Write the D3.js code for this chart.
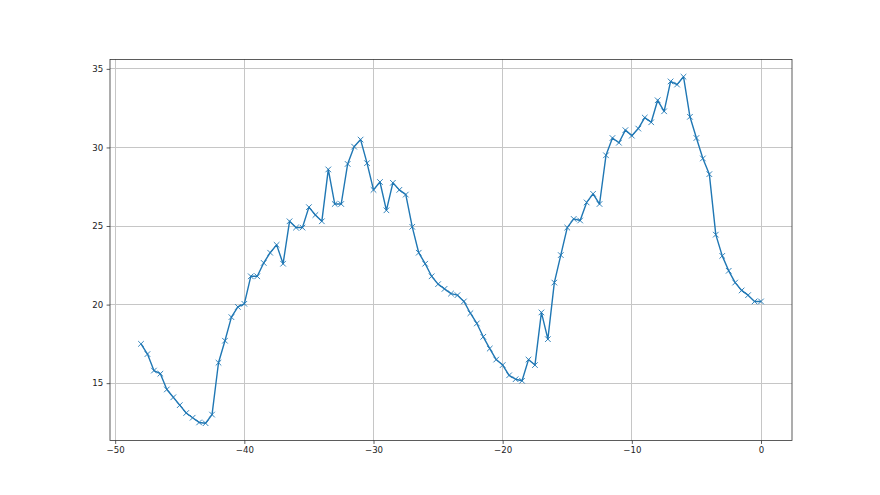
<!DOCTYPE html>
<html>
<head>
<meta charset="utf-8">
<script src="https://cdn.jsdelivr.net/npm/d3@7"></script>
<style>
  body { margin: 0; background: #fff; }
  .axis text { font-family: "DejaVu Sans", sans-serif; font-size: 8.6px; fill: #222; }
  .axis path, .axis line { stroke: #333; stroke-width: 0.8; }
  .grid line { stroke: #c6c6c6; stroke-width: 1; shape-rendering: crispEdges; }
</style>
</head>
<body>
<svg width="880" height="495"></svg>
<script>
// x positions of the samples
const xs = [-48, -47.5, -47, -46.5, -46, -45.5, -45, -44.5, -44, -43.5, -43, -42.5,
    -42, -41.5, -41, -40.5, -40, -39.5, -39, -38.5, -38, -37.5, -37, -36.5,
    -36, -35.5, -35, -34.5, -34, -33.5, -33, -32.5, -32, -31.5, -31, -30.5,
    -30, -29.5, -29, -28.5, -28, -27.5, -27, -26.5, -26, -25.5, -25, -24.5,
    -24, -23.5, -23, -22.5, -22, -21.5, -21, -20.5, -20, -19.5, -19, -18.5,
    -18, -17.5, -17, -16.5, -16, -15.5, -15, -14.5, -14, -13.5, -13, -12.5,
    -12, -11.5, -11, -10.5, -10, -9.5, -9, -8.5, -8, -7.5, -7, -6.5,
    -6, -5.5, -5, -4.5, -4, -3.5, -3, -2.5, -2, -1.5, -1, -0.5, 0];

// values
const ys = [17.5, 16.85, 15.8, 15.6, 14.6, 14.1, 13.6, 13.1, 12.8, 12.5, 12.45, 13.0,
    16.3, 17.7, 19.2, 19.85, 20.05, 21.8, 21.8, 22.65, 23.3, 23.8, 22.6, 25.3,
    24.9, 24.9, 26.2, 25.7, 25.3, 28.6, 26.4, 26.4, 28.95, 30.05, 30.5, 29.0,
    27.3, 27.8, 26.0, 27.75, 27.3, 27.0, 24.95, 23.3, 22.6, 21.8, 21.3, 21.0,
    20.7, 20.6, 20.2, 19.45, 18.8, 17.95, 17.2, 16.5, 16.15, 15.5, 15.25, 15.15,
    16.5, 16.15, 19.5, 17.8, 21.4, 23.15, 24.9, 25.45, 25.35, 26.5, 27.05, 26.4,
    29.5, 30.6, 30.3, 31.1, 30.75, 31.2, 31.9, 31.6, 33.0, 32.3, 34.2, 34.0,
    34.5, 31.95, 30.6, 29.3, 28.3, 24.45, 23.1, 22.15, 21.4, 20.9, 20.6, 20.2, 20.2];

const xTicks = [-50, -40, -30, -20, -10, 0];
const yTicks = [15, 20, 25, 30, 35];

const margin = { top: 59.4, bottom: 54.45, left: 110, right: 88 },
    width = 880 - margin.left - margin.right,
    height = 495 - margin.top - margin.bottom;

const data = xs.map((x, i) => ({ x: x, y: ys[i] }));

// matplotlib style 5% padding around the data
const xe = d3.extent(xs), ye = d3.extent(ys);
const xp = (xe[1] - xe[0]) * 0.05, yp = (ye[1] - ye[0]) * 0.05;

const x = d3.scaleLinear().domain([xe[0] - xp, xe[1] + xp]).range([0, width]);
const y = d3.scaleLinear().domain([ye[0] - yp, ye[1] + yp]).range([height, 0]);

const svg = d3.select("svg")
    .append("g")
    .attr("transform", "translate(" + margin.left + "," + margin.top + ")");

// grid
svg.append("g")
    .attr("class", "grid")
    .selectAll("line")
    .data(xTicks)
    .enter().append("line")
    .attr("x1", d => x(d)).attr("x2", d => x(d))
    .attr("y1", 0).attr("y2", height);

svg.append("g")
    .attr("class", "grid")
    .selectAll("line")
    .data(yTicks)
    .enter().append("line")
    .attr("y1", d => y(d)).attr("y2", d => y(d))
    .attr("x1", 0).attr("x2", width);

// line
const line = d3.line().x(d => x(d.x)).y(d => y(d.y));

svg.append("path")
    .datum(data)
    .attr("fill", "none")
    .attr("stroke", "#1f77b4")
    .attr("stroke-width", 1.4)
    .attr("stroke-linejoin", "round")
    .attr("d", line);

// x markers
svg.selectAll(".mark")
    .data(data)
    .enter().append("path")
    .attr("class", "mark")
    .attr("transform", d => "translate(" + x(d.x) + "," + y(d.y) + ")")
    .attr("d", "M-2.8,-2.8L2.8,2.8M-2.8,2.8L2.8,-2.8")
    .attr("stroke", "#1f77b4")
    .attr("stroke-width", 0.9);

// axes
svg.append("g")
    .attr("class", "axis")
    .attr("transform", "translate(0," + height + ")")
    .call(d3.axisBottom(x).tickValues(xTicks).tickSize(3.4).tickPadding(3.4).tickFormat(d3.format("d")))
    .call(g => g.select(".domain").remove());

svg.append("g")
    .attr("class", "axis")
    .call(d3.axisLeft(y).tickValues(yTicks).tickSize(3.4).tickPadding(3.4).tickFormat(d3.format("d")))
    .call(g => g.select(".domain").remove());

// frame
svg.append("rect")
    .attr("width", width)
    .attr("height", height)
    .attr("fill", "none")
    .attr("stroke", "#333")
    .attr("stroke-width", 0.8);
</script>
</body>
</html>
